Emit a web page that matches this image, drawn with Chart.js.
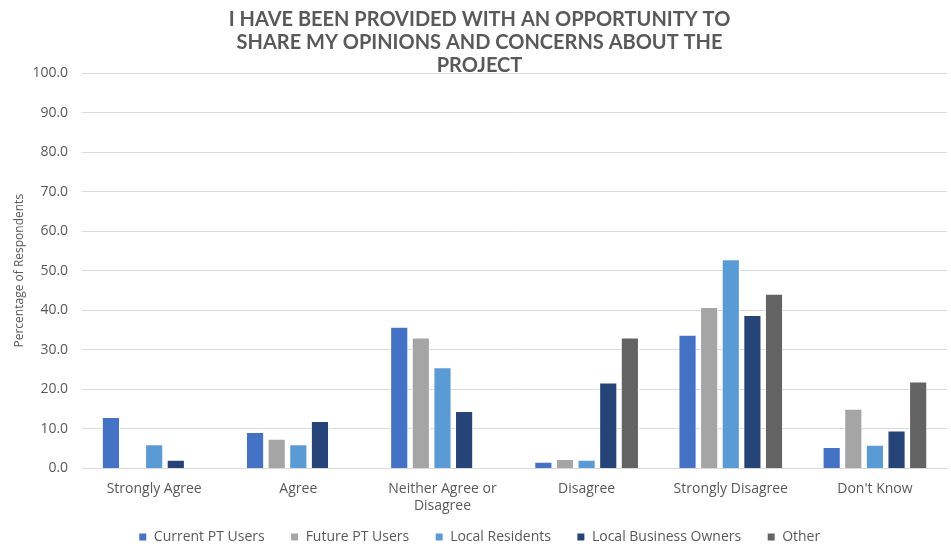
<!DOCTYPE html>
<html>
<head>
<meta charset="utf-8">
<script src="https://cdn.jsdelivr.net/npm/chart.js@4"></script>
<style>
  html, body { margin: 0; padding: 0; background: #fff; }
  #wrap { width: 951px; height: 548px; }
</style>
</head>
<body>
<div id="wrap"><canvas id="opinions"></canvas></div>
<script>
const categories = ['Strongly Agree', 'Agree', ['Neither Agree or', 'Disagree'], 'Disagree', 'Strongly Disagree', "Don't Know"];

const currentPT = [13.0, 9.2, 35.8, 1.7, 33.8, 5.4];
const futurePT = [0, 7.5, 33.1, 2.4, 40.8, 15.1];
const localResidents = [6.1, 6.1, 25.6, 2.2, 52.9, 6.0];
const businessOwners = [2.2, 12.0, 14.5, 21.7, 38.8, 9.6];
const other = [0, 0, 0, 33.1, 44.2, 22.0];

const TITLE_FONT = 'Lato, "Open Sans", sans-serif';
const FONT = '"Open Sans", Lato, sans-serif';
const TEXT = '#595959';

// legend takes little room in the layout, then its top is pulled up so the items still fit
const LEGEND_HEIGHT = 20;
const LEGEND_LIFT = 22;

function series(label, data, color) {
  return {
    label: label,
    data: data,
    backgroundColor: color,
    borderColor: '#ffffff',
    borderWidth: 1,
    categoryPercentage: 0.75,
    barPercentage: 0.84
  };
}

const compactLegend = {
  id: 'compactLegend',
  beforeLayout(chart) {
    const legend = chart.legend;
    if (!legend._compact) {
      const fit = legend.fit;
      legend.fit = function () {
        fit.call(this);
        this.height = LEGEND_HEIGHT;
      };
      legend._compact = true;
    }
  },
  afterLayout(chart) {
    chart.legend.top -= LEGEND_LIFT;
  }
};

const ctx = document.getElementById('opinions').getContext('2d');

new Chart(ctx, {
  type: 'bar',
  data: {
    labels: categories,
    datasets: [
      series('Current PT Users', currentPT, '#4472C4'),
      series('Future PT Users', futurePT, '#A5A5A5'),
      series('Local Residents', localResidents, '#5B9BD5'),
      series('Local Business Owners', businessOwners, '#264478'),
      series('Other', other, '#636363')
    ]
  },
  plugins: [compactLegend],
  options: {
    responsive: true,
    maintainAspectRatio: false,
    animation: false,
    layout: { padding: { left: 12, right: 4, top: 6, bottom: 2 } },
    plugins: {
      title: {
        display: true,
        text: ['I HAVE BEEN PROVIDED WITH AN OPPORTUNITY TO', 'SHARE MY OPINIONS AND CONCERNS ABOUT THE', 'PROJECT'],
        color: TEXT,
        font: { family: TITLE_FONT, size: 20, weight: 'bold', lineHeight: 1.15 },
        padding: { top: 2, bottom: -4 }
      },
      legend: {
        position: 'bottom',
        labels: {
          color: TEXT,
          font: { family: FONT, size: 14 },
          boxWidth: 8,
          boxHeight: 8,
          padding: 26
        }
      },
      tooltip: { enabled: false }
    },
    scales: {
      x: {
        grid: { display: false, drawTicks: false },
        border: { color: '#d9d9d9' },
        ticks: {
          color: TEXT,
          font: { family: FONT, size: 14 },
          maxRotation: 0,
          padding: 12
        }
      },
      y: {
        min: 0,
        max: 100,
        grid: { color: '#d9d9d9', drawTicks: false },
        border: { display: false },
        ticks: {
          stepSize: 10,
          color: TEXT,
          font: { family: FONT, size: 14 },
          padding: 14,
          callback: v => v.toFixed(1)
        },
        title: {
          display: true,
          text: 'Percentage of Respondents',
          color: TEXT,
          font: { family: FONT, size: 12 },
          padding: { top: 0, bottom: -8 }
        }
      }
    }
  }
});
</script>
</body>
</html>
